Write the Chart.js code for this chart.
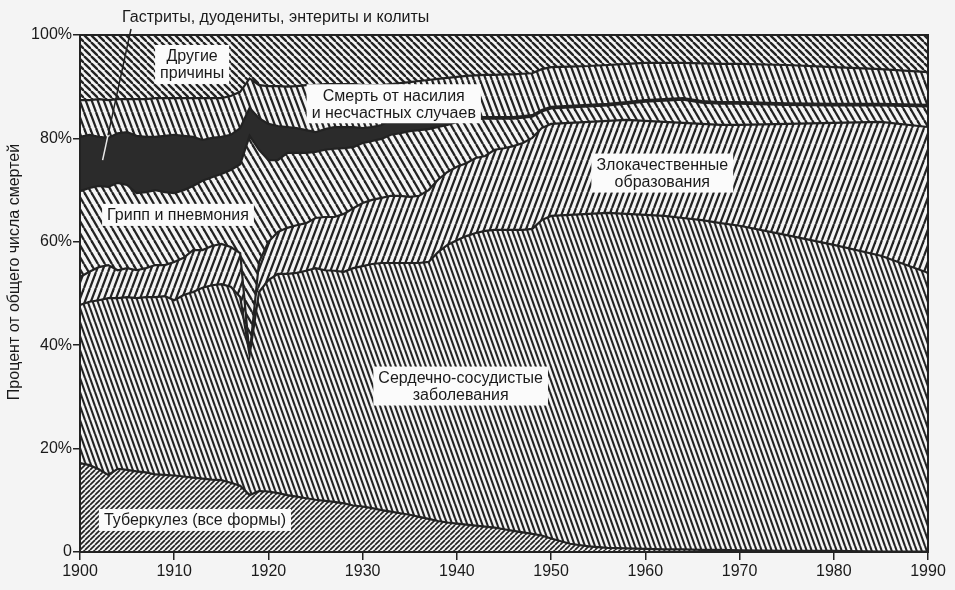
<!DOCTYPE html>
<html lang="ru">
<head>
<meta charset="utf-8">
<title>Причины смерти, 1900–1990</title>
<script src="https://cdn.jsdelivr.net/npm/chart.js@4.4.1/dist/chart.umd.min.js"></script>
<style>
  html, body { margin: 0; padding: 0; background: #f4f4f4; }
  #wrap { width: 955px; height: 590px; }
</style>
</head>
<body>
<div id="wrap"><canvas id="deathChart" width="955" height="590"></canvas></div>
<script>
// годы наблюдений
const years = [
  1900, 1901, 1902, 1903, 1904, 1905, 1906, 1907, 1908, 1909,
  1910, 1911, 1912, 1913, 1914, 1915, 1916, 1917, 1918, 1919,
  1920, 1921, 1922, 1923, 1924, 1925, 1926, 1927, 1928, 1929,
  1930, 1931, 1932, 1933, 1934, 1935, 1936, 1937, 1938, 1939,
  1940, 1941, 1942, 1943, 1944, 1945, 1946, 1947, 1948, 1949,
  1950, 1952, 1954, 1956, 1958, 1960, 1962, 1964, 1966, 1968,
  1970, 1975, 1980, 1985, 1990
];

// доли причин смерти, % (снизу вверх)
const tuberculosis = [
  17.2, 16.8, 16.0, 14.9, 16.1, 15.9, 15.6, 15.4, 15.0, 14.9,
  14.8, 14.6, 14.4, 14.2, 14.0, 13.9, 13.4, 12.8, 11.0, 11.8,
  11.7, 11.4, 11.0, 10.7, 10.4, 10.1, 9.9, 9.7, 9.4, 9.0,
  8.8, 8.5, 8.1, 7.8, 7.5, 7.2, 6.8, 6.4, 6.0, 5.7,
  5.5, 5.3, 5.1, 4.9, 4.7, 4.4, 4.1, 3.8, 3.5, 3.2,
  2.6, 1.6, 1.1, 0.8, 0.7, 0.6, 0.5, 0.5, 0.4, 0.4,
  0.3, 0.2, 0.2, 0.1, 0.1
];
const cardiovascular = [
  30.6, 31.6, 32.7, 34.2, 33.0, 33.4, 33.5, 33.9, 34.3, 34.6,
  33.9, 35.1, 35.9, 36.9, 37.6, 37.9, 37.9, 36.5, 27.1, 38.5,
  40.9, 42.4, 42.8, 43.3, 44.0, 44.8, 44.6, 44.7, 44.8, 45.9,
  46.5, 47.2, 47.8, 48.1, 48.4, 48.7, 49.1, 49.7, 52.0, 53.7,
  54.8, 55.8, 56.6, 57.2, 57.6, 57.9, 58.2, 58.5, 59.0, 61.0,
  62.4, 63.6, 64.3, 64.8, 64.7, 64.6, 64.5, 64.1, 63.8, 63.2,
  62.8, 61.1, 59.2, 57.2, 53.9
];
const malignant = [
  5.4, 5.8, 6.4, 6.4, 5.4, 5.6, 5.4, 5.6, 6.2, 6.0,
  7.4, 7.2, 8.1, 7.3, 7.6, 7.8, 7.7, 8.5, 0.0, 5.8,
  7.4, 8.1, 8.9, 9.2, 9.2, 9.7, 10.3, 10.4, 11.2, 11.6,
  12.2, 12.4, 12.6, 13.0, 13.0, 12.8, 13.0, 13.9, 14.0, 14.1,
  14.2, 14.1, 14.5, 14.5, 15.5, 15.8, 16.2, 16.8, 17.6, 17.8,
  17.8, 17.8, 17.8, 17.8, 18.2, 18.2, 18.2, 18.4, 18.6, 19.0,
  19.5, 21.5, 23.6, 25.9, 28.2
];
const fluPneumonia = [
  16.6, 16.2, 15.7, 15.1, 16.9, 16.1, 14.9, 14.7, 14.5, 14.1,
  13.3, 13.1, 12.4, 13.4, 13.3, 13.5, 14.9, 17.2, 42.4, 21.7,
  15.8, 13.9, 14.5, 14.0, 13.6, 12.8, 13.0, 13.2, 12.7, 11.8,
  11.6, 11.4, 11.4, 11.8, 12.1, 12.7, 12.7, 11.8, 10.2, 9.1,
  8.7, 8.4, 7.6, 7.2, 6.0, 5.7, 5.3, 4.9, 4.1, 3.2,
  3.0, 3.0, 3.0, 3.0, 3.1, 3.7, 4.1, 4.5, 4.1, 4.1,
  4.1, 3.7, 3.4, 3.2, 4.0
];
const gastritis = [
  10.5, 10.3, 9.5, 9.5, 9.6, 10.2, 11.1, 10.7, 10.3, 10.9,
  11.3, 10.5, 9.5, 7.9, 7.6, 7.2, 6.8, 7.0, 5.4, 6.1,
  7.0, 6.6, 5.0, 4.8, 4.4, 3.8, 4.0, 4.2, 4.1, 3.9,
  2.9, 2.7, 2.7, 2.9, 2.9, 2.4, 2.0, 1.8, 1.4, 1.2,
  0.7, 0.5, 0.3, 0.3, 0.3, 0.3, 0.3, 0.3, 0.3, 0.3,
  0.3, 0.3, 0.3, 0.3, 0.3, 0.3, 0.3, 0.3, 0.3, 0.3,
  0.3, 0.3, 0.3, 0.3, 0.3
];
const violence = [
  7.1, 6.7, 7.3, 7.3, 6.6, 6.4, 7.1, 7.3, 7.5, 7.3,
  7.1, 7.3, 7.5, 8.1, 7.7, 7.5, 7.5, 7.0, 5.7, 6.4,
  7.3, 7.7, 7.8, 8.1, 8.7, 9.1, 8.7, 8.3, 8.3, 8.3,
  8.3, 8.1, 7.7, 6.9, 6.8, 7.1, 7.5, 7.7, 7.9, 7.9,
  8.0, 8.0, 8.1, 8.2, 8.2, 8.3, 8.3, 8.2, 8.1, 7.9,
  7.7, 7.6, 7.5, 7.5, 7.4, 7.2, 7.0, 6.8, 7.3, 7.4,
  7.4, 7.4, 7.1, 6.7, 6.3
];
const otherCauses = [
  12.6, 12.6, 12.4, 12.6, 12.4, 12.4, 12.4, 12.4, 12.2, 12.2,
  12.2, 12.2, 12.2, 12.2, 12.2, 12.2, 11.8, 11.0, 8.4, 9.7,
  9.9, 9.9, 10.0, 9.9, 9.7, 9.7, 9.5, 9.5, 9.5, 9.5,
  9.7, 9.7, 9.7, 9.5, 9.3, 9.1, 8.9, 8.7, 8.5, 8.3,
  8.1, 7.9, 7.8, 7.7, 7.7, 7.6, 7.6, 7.5, 7.4, 6.6,
  6.2, 6.1, 6.0, 5.8, 5.6, 5.4, 5.4, 5.4, 5.5, 5.6,
  5.6, 5.8, 6.2, 6.6, 7.2
];

const xTicks = [1900, 1910, 1920, 1930, 1940, 1950, 1960, 1970, 1980, 1990];
const yTicks = [0, 20, 40, 60, 80, 100];

const paper = '#f4f4f4';
const ink = '#222222';
const font = '"Liberation Sans", Arial, sans-serif';

// штриховка: w x h плитка, одна линия по диагонали
function hatch(w, h, dir, lw) {
  const c = document.createElement('canvas');
  c.width = w;
  c.height = h;
  const g = c.getContext('2d');
  g.fillStyle = paper;
  g.fillRect(0, 0, w, h);
  g.strokeStyle = ink;
  g.lineWidth = lw;
  for (let k = -1; k <= 1; k++) {
    g.beginPath();
    if (dir === '/') {
      g.moveTo(k * w, h);
      g.lineTo(k * w + w, 0);
    } else {
      g.moveTo(k * w, 0);
      g.lineTo(k * w + w, h);
    }
    g.stroke();
  }
  return g.createPattern(c, 'repeat');
}

const series = [
  { label: 'Туберкулез (все формы)', values: tuberculosis, fill: hatch(5, 5, '/', 1.7) },
  { label: 'Сердечно-сосудистые заболевания', values: cardiovascular, fill: hatch(5, 14, '\\', 2.1) },
  { label: 'Злокачественные образования', values: malignant, fill: hatch(6, 16, '/', 2.2) },
  { label: 'Грипп и пневмония', values: fluPneumonia, fill: hatch(7, 12, '\\', 2.3) },
  { label: 'Гастриты, дуодениты, энтериты и колиты', values: gastritis, fill: '#2b2b2b' },
  { label: 'Смерть от насилия и несчастных случаев', values: violence, fill: hatch(6, 16, '\\', 2.2) },
  { label: 'Другие причины', values: otherCauses, fill: hatch(7, 7, '\\', 2.3) }
];

// подписи внутри областей (год, % — центр подписи)
const areaLabels = [
  { lines: ['Другие', 'причины'], year: 1911.9, pct: 94.3 },
  { lines: ['Смерть от насилия', 'и несчастных случаев'], year: 1933.3, pct: 86.7 },
  { lines: ['Грипп и пневмония'], year: 1910.4, pct: 65.2 },
  { lines: ['Злокачественные', 'образования'], year: 1961.8, pct: 73.3 },
  { lines: ['Сердечно-сосудистые', 'заболевания'], year: 1940.4, pct: 32.1 },
  { lines: ['Туберкулез (все формы)'], year: 1912.2, pct: 6.2 }
];

const labelsPlugin = {
  id: 'areaLabels',
  afterDatasetsDraw(chart) {
    const { ctx, scales: { x, y } } = chart;
    const lh = 17;
    ctx.save();
    ctx.font = '16px ' + font;
    ctx.textAlign = 'center';
    ctx.textBaseline = 'middle';
    areaLabels.forEach(l => {
      const cx = x.getPixelForValue(l.year);
      const cy = y.getPixelForValue(l.pct);
      const w = Math.max(...l.lines.map(t => ctx.measureText(t).width)) + 10;
      const h = l.lines.length * lh + 5;
      ctx.fillStyle = '#fbfbfb';
      ctx.fillRect(cx - w / 2, cy - h / 2, w, h);
      ctx.fillStyle = '#1a1a1a';
      l.lines.forEach((t, i) => {
        ctx.fillText(t, cx, cy - (l.lines.length - 1) * lh / 2 + i * lh + 1);
      });
    });
    ctx.restore();
  },
  afterDraw(chart) {
    const { ctx, chartArea: a, scales: { x, y } } = chart;
    ctx.save();
    // рамка вокруг поля графика
    ctx.strokeStyle = ink;
    ctx.lineWidth = 2;
    ctx.strokeRect(a.left, a.top, a.right - a.left, a.bottom - a.top);

    ctx.font = '16px ' + font;
    ctx.fillStyle = '#1a1a1a';

    // подпись оси Y (чуть выше центра, как в оригинале)
    ctx.save();
    ctx.translate(15, 272);
    ctx.rotate(-Math.PI / 2);
    ctx.textAlign = 'center';
    ctx.textBaseline = 'middle';
    ctx.fillText('Процент от общего числа смертей', 0, 0);
    ctx.restore();

    // подпись сверху и выноска к черной полосе
    ctx.textAlign = 'left';
    ctx.textBaseline = 'middle';
    ctx.fillText('Гастриты, дуодениты, энтериты и колиты', 122, 18);

    const x0 = 131, y0 = 29;
    const x1 = x.getPixelForValue(1902.4), y1 = y.getPixelForValue(75.8);
    const ym = y.getPixelForValue(80.6);
    const xm = x0 + (x1 - x0) * (ym - y0) / (y1 - y0);
    ctx.lineWidth = 1.5;
    ctx.strokeStyle = ink;
    ctx.beginPath();
    ctx.moveTo(x0, y0);
    ctx.lineTo(xm, ym);
    ctx.stroke();
    ctx.strokeStyle = '#e8e8e8';
    ctx.beginPath();
    ctx.moveTo(xm, ym);
    ctx.lineTo(x1, y1);
    ctx.stroke();
    ctx.restore();
  }
};

const ctx = document.getElementById('deathChart').getContext('2d');

new Chart(ctx, {
  type: 'line',
  data: {
    datasets: series.map((s, i) => ({
      label: s.label,
      data: years.map((yr, j) => ({ x: yr, y: s.values[j] })),
      fill: i === 0 ? 'origin' : '-1',
      backgroundColor: s.fill,
      borderColor: ink,
      borderWidth: 2.2,
      pointRadius: 0,
      tension: 0
    }))
  },
  options: {
    responsive: false,
    animation: false,
    events: [],
    layout: { padding: { left: 0, top: 35, right: 27, bottom: 0 } },
    plugins: {
      legend: { display: false },
      tooltip: { enabled: false }
    },
    scales: {
      x: {
        type: 'linear',
        min: 1900,
        max: 1990,
        afterFit: s => { s.height = 38; },
        afterBuildTicks: s => { s.ticks = xTicks.map(v => ({ value: v })); },
        grid: { drawOnChartArea: false, tickLength: 8, color: ink, lineWidth: 1.5 },
        border: { color: ink, width: 2 },
        ticks: {
          color: '#1a1a1a',
          padding: 2,
          maxRotation: 0,
          font: { family: font, size: 16 },
          callback: v => String(v)
        }
      },
      y: {
        stacked: true,
        min: 0,
        max: 100,
        afterFit: s => { s.width = 80; },
        afterBuildTicks: s => { s.ticks = yTicks.map(v => ({ value: v })); },
        grid: { drawOnChartArea: false, tickLength: 7, color: ink, lineWidth: 1.5 },
        border: { color: ink, width: 2 },
        ticks: {
          color: '#1a1a1a',
          padding: 1,
          font: { family: font, size: 16 },
          callback: v => (v === 0 ? '0' : v + '%')
        }
      }
    }
  },
  plugins: [labelsPlugin]
});
</script>
</body>
</html>
